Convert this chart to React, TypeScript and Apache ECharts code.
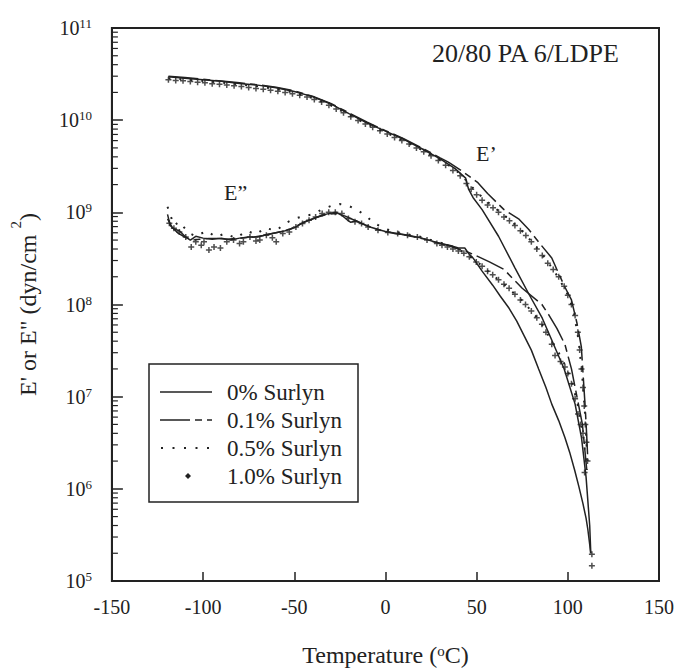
import React, { useEffect, useRef } from 'react';
import * as echarts from 'echarts';

const FONT = 'Liberation Serif';
const INK = '#222';

const seriesNames = ['0% Surlyn', '0.1% Surlyn', '0.5% Surlyn', '1.0% Surlyn'];
const xAxisTitle = 'Temperature ({sup|o}C)';
const yAxisTitle = 'E\' or E" (dyn/cm {sup|2})';
const sampleLabel = '20/80 PA 6/LDPE';
const storageLabel = 'E\u2019';
const lossLabel = 'E\u201D';

// 0% Surlyn (solid line)
const zeroEp: [number, number][] = [
  [-119, 2.95e10], [-110, 2.85e10], [-100, 2.75e10], [-90, 2.65e10], [-80, 2.5e10], [-70, 2.4e10],
  [-60, 2.25e10], [-50, 2.05e10], [-40, 1.8e10], [-30, 1.5e10], [-20, 1.18e10], [-10, 9.3e9],
  [0, 7.6e9], [10, 6.2e9], [20, 4.9e9], [30, 3.8e9], [38, 3.0e9], [44, 2.35e9], [45.5, 1.8e9],
  [48, 1.45e9], [53, 1.07e9], [62, 5.5e8], [71, 2.5e8], [79, 1.26e8], [86, 7.1e7], [91, 4.2e7],
  [98, 2.0e7], [104, 8.3e6], [107.5, 3.6e6], [110, 1.35e6], [112, 4.0e5], [112.6, 2.0e5],
];
const zeroEpp: [number, number][] = [
  [-119.5, 9.5e8], [-118, 7.2e8], [-116, 6.6e8], [-113, 6.3e8], [-110, 5.5e8], [-107, 5.0e8],
  [-104, 5.5e8], [-100, 5.25e8], [-95, 5.1e8], [-90, 5.25e8], [-85, 5.0e8], [-80, 5.25e8],
  [-75, 5.4e8], [-70, 5.4e8], [-65, 5.75e8], [-60, 6.0e8], [-55, 6.3e8], [-50, 6.8e8],
  [-45, 7.8e8], [-40, 8.5e8], [-35, 9.3e8], [-30, 9.8e8], [-27, 1.0e9], [-24, 9.3e8],
  [-21, 8.3e8], [-19, 7.8e8], [-16, 8.1e8], [-12, 7.4e8], [-8, 6.9e8], [-4, 6.5e8], [0, 6.2e8],
  [5, 5.9e8], [10, 5.75e8], [15, 5.5e8], [20, 5.25e8], [25, 4.9e8], [30, 4.6e8], [35, 4.4e8],
  [40, 4.1e8], [43.5, 4.1e8], [45.5, 3.6e8], [48, 3.2e8], [53, 2.3e8], [58.8, 1.62e8],
  [63, 1.23e8], [67.8, 9.1e7], [72, 6.6e7], [76, 4.6e7], [80, 3.2e7], [84, 2.0e7], [88, 1.26e7],
  [91.2, 8.3e6], [95, 5.5e6], [98.4, 3.6e6], [101, 2.5e6], [103.8, 1.58e6], [106, 1.07e6],
  [108.3, 6.9e5], [110, 4.8e5], [111, 3.6e5], [112, 2.5e5], [112.5, 2.0e5],
];

// 0.1% Surlyn (long-short dashes)
const pointOneEp: [number, number][] = [
  [-119, 3.0e10], [-110, 2.9e10], [-100, 2.78e10], [-90, 2.66e10], [-80, 2.54e10], [-70, 2.42e10],
  [-60, 2.28e10], [-50, 2.08e10], [-40, 1.82e10], [-30, 1.52e10], [-20, 1.2e10], [-10, 9.5e9],
  [0, 7.7e9], [10, 6.3e9], [20, 5.0e9], [30, 3.9e9], [34.5, 3.5e9], [42, 2.8e9], [50.7, 2.1e9],
  [56, 1.6e9], [65, 1.07e9], [73, 8.5e8], [78.6, 6.5e8], [85, 4.5e8], [91.2, 3.2e8], [94, 2.4e8],
  [98, 1.6e8], [102, 1.12e8], [105, 6.3e7], [107.4, 3.5e7], [108.5, 1.6e7], [109.5, 7.9e6],
  [110.3, 4.0e6], [111, 2.0e6],
];
const pointOneEpp: [number, number][] = [
  [-119.5, 8.5e8], [-117, 6.9e8], [-114, 6.0e8], [-110, 5.4e8], [-106, 5.0e8], [-102, 5.1e8],
  [-97, 5.2e8], [-92, 5.2e8], [-87, 5.1e8], [-82, 5.2e8], [-77, 5.3e8], [-72, 5.4e8], [-67, 5.6e8],
  [-62, 5.9e8], [-57, 6.2e8], [-52, 6.6e8], [-47, 7.4e8], [-42, 8.2e8], [-37, 8.9e8], [-32, 9.5e8],
  [-27, 9.7e8], [-22, 9.1e8], [-17, 8.2e8], [-12, 7.4e8], [-7, 6.8e8], [-2, 6.3e8], [4, 6.0e8],
  [10, 5.7e8], [16, 5.4e8], [22, 5.1e8], [28, 4.7e8], [34, 4.4e8], [40, 4.0e8], [44, 3.8e8],
  [48.9, 3.45e8], [57, 2.9e8], [65, 2.4e8], [75, 1.5e8], [85.8, 1.0e8], [89.4, 7.8e7], [94, 5.5e7],
  [98.4, 3.7e7], [102, 2.0e7], [105, 1.0e7], [108, 5.0e6], [110.4, 1.6e6],
];

// 0.5% Surlyn (dotted)
const pointFiveEp: [number, number][] = [
  [-119, 2.85e10], [-110, 2.76e10], [-100, 2.66e10], [-90, 2.56e10], [-80, 2.45e10], [-70, 2.33e10],
  [-60, 2.18e10], [-50, 1.98e10], [-40, 1.74e10], [-30, 1.45e10], [-20, 1.14e10], [-10, 9.0e9],
  [0, 7.35e9], [10, 6.0e9], [20, 4.75e9], [30, 3.7e9], [38, 2.95e9], [44, 2.25e9], [50, 1.66e9],
  [58, 1.2e9], [67, 8.7e8], [76, 6.0e8], [85, 3.7e8], [92, 2.4e8], [99, 1.41e8], [103, 8.9e7],
  [106, 4.0e7], [108, 1.58e7], [109.5, 6.3e6], [110.5, 2.5e6],
];
const pointFiveEpp: [number, number][] = [
  [-119.5, 1.15e9], [-116, 7.2e8], [-113, 7.9e8], [-108, 6.0e8], [-104, 5.5e8], [-98, 6.3e8],
  [-93, 5.4e8], [-88, 5.9e8], [-82, 5.25e8], [-76, 6.3e8], [-71, 5.75e8], [-66, 6.8e8], [-60, 6.3e8],
  [-55, 7.6e8], [-50, 8.5e8], [-45, 9.1e8], [-40, 9.5e8], [-35, 1.07e9], [-30, 1.17e9], [-25, 1.23e9],
  [-20, 1.17e9], [-15, 1.05e9], [-10, 8.9e8], [-6, 7.6e8], [0, 6.6e8], [5, 6.2e8], [10, 5.9e8],
  [15, 5.6e8], [20, 5.4e8], [25, 5.0e8], [30, 4.7e8], [35, 4.4e8], [40, 4.0e8], [45, 3.45e8],
  [50, 2.95e8], [55, 2.4e8], [60, 2.0e8], [65, 1.66e8], [70, 1.35e8], [75, 1.1e8], [80, 8.5e7],
  [85, 6.5e7], [90, 4.4e7], [95, 3.0e7], [99, 2.1e7], [102, 1.5e7], [105, 8.9e6], [107.5, 5.2e6],
  [109.5, 2.5e6], [110.5, 1.6e6],
];

// 1.0% Surlyn (markers)
const oneEp: [number, number][] = [
  [-119, 2.75e10], [-115, 2.7e10], [-111, 2.67e10], [-107, 2.63e10], [-103, 2.58e10], [-99, 2.54e10],
  [-95, 2.49e10], [-91, 2.45e10], [-87, 2.4e10], [-83, 2.37e10], [-79, 2.32e10], [-75, 2.26e10],
  [-71, 2.21e10], [-67, 2.16e10], [-63, 2.11e10], [-59, 2.06e10], [-55, 2.0e10], [-51, 1.93e10],
  [-47, 1.86e10], [-43, 1.78e10], [-39, 1.68e10], [-35, 1.57e10], [-31, 1.45e10], [-27, 1.32e10],
  [-23, 1.2e10], [-19, 1.09e10], [-15, 9.9e9], [-11, 9.1e9], [-7, 8.4e9], [-3, 7.7e9], [1, 7.1e9],
  [5, 6.5e9], [9, 6.0e9], [13, 5.5e9], [17, 5.0e9], [21, 4.55e9], [25, 4.1e9], [29, 3.65e9],
  [33, 3.25e9], [37, 2.85e9], [41, 2.5e9], [44.4, 2.05e9], [47, 1.78e9], [50, 1.55e9], [53, 1.35e9],
  [56, 1.2e9], [59, 1.12e9], [62, 1.0e9], [65, 8.9e8], [68, 8.1e8], [71, 7.2e8], [74, 6.3e8],
  [77, 5.6e8], [80, 4.8e8], [83, 4.0e8], [86, 3.4e8], [89, 2.8e8], [92, 2.4e8], [95, 2.0e8],
  [98, 1.58e8], [100, 1.26e8], [102, 1.0e8], [104, 7.6e7], [105.5, 5.0e7], [106.5, 3.2e7],
  [107.5, 2.0e7], [108.3, 1.26e7], [109, 7.9e6], [109.6, 5.0e6], [110.2, 3.2e6], [110.8, 2.0e6],
];
const oneEpp: [number, number][] = [
  [-118.5, 7.6e8], [-116, 6.7e8], [-113, 6.1e8], [-109.5, 5.4e8], [-106.5, 4.2e8], [-104, 4.8e8],
  [-101, 4.4e8], [-99.5, 4.8e8], [-96.8, 3.9e8], [-94, 4.2e8], [-90.5, 4.1e8], [-87, 4.8e8],
  [-83.3, 5.0e8], [-80, 4.6e8], [-77.9, 4.8e8], [-74.3, 5.4e8], [-71, 4.9e8], [-68.9, 5.0e8],
  [-65.3, 5.65e8], [-62, 5.3e8], [-59.9, 4.8e8], [-56.3, 5.9e8], [-52.7, 6.1e8], [-49.1, 6.95e8],
  [-45.5, 7.55e8], [-41.9, 8.2e8], [-38.3, 8.9e8], [-34.7, 9.7e8], [-31.1, 1.0e9], [-27.5, 1.0e9],
  [-23.9, 9.7e8], [-20.3, 8.55e8], [-16.7, 7.9e8], [-13.1, 7.55e8], [-9.5, 6.95e8], [-4.1, 6.4e8],
  [1.3, 6.05e8], [6.7, 5.9e8], [12.1, 5.65e8], [17.5, 5.4e8], [22.8, 5.0e8], [28.2, 4.6e8],
  [31, 4.4e8], [34, 4.2e8], [37, 4.0e8], [40, 3.8e8], [43, 3.6e8], [46, 3.3e8], [49.8, 2.9e8],
  [53, 2.6e8], [56, 2.3e8], [58.8, 2.1e8], [62, 1.86e8], [65, 1.66e8], [67.8, 1.5e8], [71, 1.29e8],
  [74, 1.12e8], [76.8, 1.0e8], [80, 8.5e7], [83, 7.2e7], [85.8, 6.1e7], [88, 5.0e7], [91.2, 3.7e7],
  [93, 2.8e7], [96, 2.4e7], [98.4, 2.1e7], [100, 1.78e7], [102, 1.38e7], [104, 9.5e6],
  [105.6, 6.5e6], [107, 5.0e6], [108.3, 4.0e6], [109.2, 1.5e6], [113.2, 1.95e5], [113.2, 1.46e5],
];

// log-axis minor tick positions (2..9 within each decade)
const minorMantissas = [2, 3, 4, 5, 6, 7, 8, 9];
const decades = [1e5, 1e6, 1e7, 1e8, 1e9, 1e10];

const PLUS = 'path://M3,0H5V3H8V5H5V8H3V5H0V3H3Z';
const DASH_LONG_SHORT = [30, 5, 7, 5];
const DOTS = [2, 9];

export default function App() {
  const ref = useRef<HTMLDivElement>(null);

  useEffect(() => {
    if (!ref.current) return;
    const chart = echarts.init(ref.current, undefined, { renderer: 'svg' });

    const minorTicks = decades.flatMap((d) => minorMantissas.map((m) => [-150, m * d]));

    const line = (name: string, data: [number, number][], type: any, width: number) => ({
      type: 'line',
      name,
      data,
      symbol: 'none',
      showSymbol: false,
      silent: true,
      lineStyle: { color: INK, width, type },
      itemStyle: { color: INK },
      z: 3,
    });
    const markers = (name: string, data: [number, number][]) => ({
      type: 'scatter',
      name,
      data,
      symbol: PLUS,
      symbolSize: 6,
      silent: true,
      itemStyle: { color: INK },
      z: 4,
    });

    const legendTop = 364;
    const rowY = [392, 420, 448, 476];
    const textEl = (text: string, x: number, y: number, size: number) => ({
      type: 'text',
      x,
      y,
      z: 110,
      style: {
        text,
        fontSize: size,
        fontFamily: FONT,
        fill: INK,
        align: 'left',
        verticalAlign: 'middle',
      },
    });

    chart.setOption({
      animation: false,
      backgroundColor: '#ffffff',
      grid: {
        left: 103,
        right: 21,
        top: 28,
        bottom: 87,
        show: true,
        borderColor: INK,
        borderWidth: 2,
        backgroundColor: 'transparent',
      },
      xAxis: {
        type: 'value',
        min: -150,
        max: 150,
        interval: 50,
        axisLine: { show: true, onZero: false, lineStyle: { color: INK, width: 2 } },
        axisTick: { show: true, inside: true, length: 9, lineStyle: { color: INK, width: 1.5 } },
        axisLabel: { fontSize: 20, fontFamily: FONT, color: INK, margin: 16 },
        splitLine: { show: false },
        name: xAxisTitle,
        nameLocation: 'middle',
        nameGap: 62,
        nameTextStyle: {
          fontSize: 24,
          fontFamily: FONT,
          color: INK,
          lineHeight: 24,
          rich: { sup: { fontSize: 15, fontFamily: FONT, color: INK, verticalAlign: 'top', lineHeight: 15 } },
        },
      },
      yAxis: {
        type: 'log',
        logBase: 10,
        min: 1e5,
        max: 1e11,
        axisLine: { show: true, onZero: false, lineStyle: { color: INK, width: 2 } },
        axisTick: { show: true, inside: true, length: 11, lineStyle: { color: INK, width: 1.5 } },
        axisLabel: {
          margin: 20,
          formatter: (v: number) => `{b|10}{s|${Math.round(Math.log10(v))}}`,
          rich: {
            b: { fontSize: 20, fontFamily: FONT, color: INK, lineHeight: 22 },
            s: { fontSize: 13, fontFamily: FONT, color: INK, lineHeight: 13, verticalAlign: 'top' },
          },
        },
        splitLine: { show: false },
        name: yAxisTitle,
        nameLocation: 'middle',
        nameRotate: 90,
        nameGap: 52,
        nameTextStyle: {
          fontSize: 24,
          fontFamily: FONT,
          color: INK,
          lineHeight: 40,
          rich: { sup: { fontSize: 15, fontFamily: FONT, color: INK, verticalAlign: 'top', lineHeight: 15 } },
        },
      },
      series: [
        line(seriesNames[0], zeroEp, 'solid', 1.5),
        line(seriesNames[0], zeroEpp, 'solid', 1.5),
        line(seriesNames[1], pointOneEp, DASH_LONG_SHORT, 1.5),
        line(seriesNames[1], pointOneEpp, DASH_LONG_SHORT, 1.5),
        line(seriesNames[2], pointFiveEp, DOTS, 2),
        line(seriesNames[2], pointFiveEpp, DOTS, 2),
        markers(seriesNames[3], oneEp),
        markers(seriesNames[3], oneEpp),
        {
          type: 'custom',
          name: 'minor ticks',
          silent: true,
          clip: false,
          data: minorTicks,
          encode: { x: 0, y: 1 },
          renderItem: (_params: any, api: any) => {
            const p = api.coord([api.value(0), api.value(1)]);
            return {
              type: 'line',
              shape: { x1: p[0], y1: p[1], x2: p[0] + 6, y2: p[1] },
              style: { stroke: INK, lineWidth: 1.2 },
            };
          },
          z: 5,
        },
      ],
      graphic: [
        textEl(sampleLabel, 432, 53, 26),
        textEl(storageLabel, 476, 153, 22),
        textEl(lossLabel, 224, 192, 22),
        {
          type: 'rect',
          z: 100,
          shape: { x: 149, y: legendTop, width: 209, height: 138 },
          style: { fill: '#ffffff', stroke: INK, lineWidth: 1.5 },
        },
        {
          type: 'line',
          z: 105,
          shape: { x1: 160, y1: rowY[0], x2: 212, y2: rowY[0] },
          style: { stroke: INK, lineWidth: 1.5 },
        },
        {
          type: 'line',
          z: 105,
          shape: { x1: 160, y1: rowY[1], x2: 212, y2: rowY[1] },
          style: { stroke: INK, lineWidth: 1.5, lineDash: DASH_LONG_SHORT },
        },
        {
          type: 'line',
          z: 105,
          shape: { x1: 161, y1: rowY[2], x2: 212, y2: rowY[2] },
          style: { stroke: INK, lineWidth: 2, lineDash: [2, 9.5] },
        },
        {
          type: 'polygon',
          z: 105,
          shape: { points: [[188, rowY[3] - 3], [191, rowY[3]], [188, rowY[3] + 3], [185, rowY[3]]] },
          style: { fill: INK },
        },
        ...seriesNames.map((n, i) => textEl(n, 227, rowY[i], 23)),
      ],
    });

    return () => chart.dispose();
  }, []);

  return (
    <div
      ref={ref}
      style={{ position: 'absolute', left: 0, top: 0, width: 680, height: 672, background: '#fff' }}
    />
  );
}
